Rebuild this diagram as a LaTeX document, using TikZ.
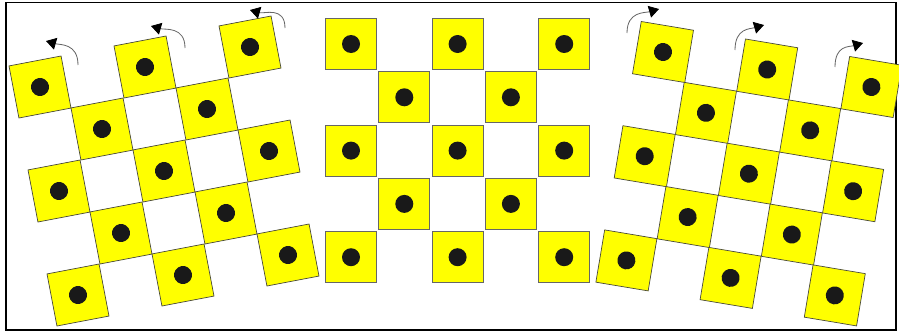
\documentclass[tikz,border=0pt]{standalone}
\usepackage{xcolor}
\definecolor{tileyellow}{HTML}{FFFF00}
\definecolor{tileedge}{HTML}{4A4A3A}
\usetikzlibrary{arrows.meta}

\tikzset{
  tile/.style={draw=tileedge, fill=tileyellow, inner sep=0pt, line width=0.6pt,
    minimum size=1.59cm,
    path picture={\fill[black!90] (path picture bounding box.center) circle (0.27cm);}},
  flat/.style={tile, minimum size=1.53cm, draw=black!60},
  turn/.style={draw=black!60, line width=0.7pt,
    -{Triangle[width=0.36cm,length=0.3cm,color=black,fill=black]}}
}

\begin{document}
\begin{tikzpicture}[x=0.03cm, y=-0.03cm]
  % pixel grid: (0,0) top left, 899 x 333
  \useasboundingbox (0,0) rectangle (899,333);
  \draw[line width=1.7pt] (6,2.5) rectangle (896,330);
  % left board, turned anticlockwise
  \foreach \r/\c in {0/0,0/2,0/4,1/1,1/3,2/0,2/2,2/4,3/1,3/3,4/0,4/2,4/4}
    \node[tile, rotate=10.8] (L-\r-\c) at ({40+52.5*\c+9.5*\r},{87-10*\c+52*\r}) {};
  % middle board, straight
  \foreach \r/\c in {0/0,0/2,0/4,1/1,1/3,2/0,2/2,2/4,3/1,3/3,4/0,4/2,4/4}
    \node[flat] (M-\r-\c) at ({351+53.3*\c},{44+53.3*\r}) {};
  % right board, turned clockwise
  \foreach \r/\c in {0/0,0/2,0/4,1/1,1/3,2/0,2/2,2/4,3/1,3/3,4/0,4/2,4/4}
    \node[tile, rotate=-9.5] (R-\r-\c) at ({663+52.1*\c-9.15*\r},{52+8.75*\c+52.1*\r}) {};
  % turning arrows over the top rows
  \foreach \i/\sx/\sy/\ex/\ey in {1/78/65/46/41, 2/185/48/151/26, 3/285/28/250/10} {
    \coordinate (la\i) at (\sx,\sy);
    \coordinate (lb\i) at (\ex,\ey);
    \draw[turn] (la\i) .. controls +(0,-22) and +(14,4) .. (lb\i);
  }
  \foreach \i/\sx/\sy/\ex/\ey in {1/627/33/659/9, 2/735/50/764/25, 3/835/67/863/43} {
    \coordinate (ra\i) at (\sx,\sy);
    \coordinate (rb\i) at (\ex,\ey);
    \draw[turn] (ra\i) .. controls +(0,-22) and +(-14,4) .. (rb\i);
  }
\end{tikzpicture}
\end{document}
